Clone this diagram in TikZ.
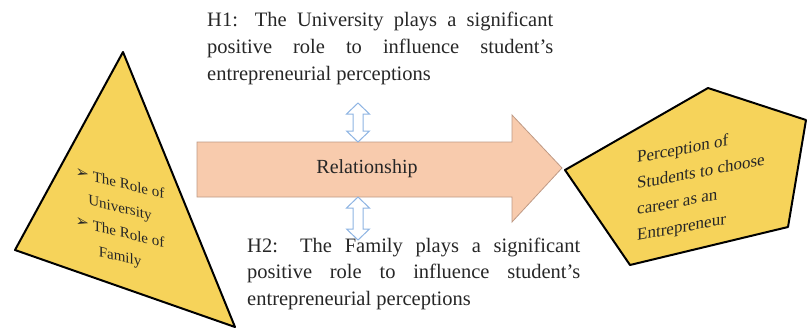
\documentclass[tikz,border=0pt]{standalone}
\usepackage{fontspec}
\setmainfont{Liberation Serif}
\newfontfamily\dingfont{DejaVu Sans}

\definecolor{shapeyellow}{HTML}{F6D35A}
\definecolor{peach}{HTML}{F8CBAD}
\definecolor{peachedge}{HTML}{BF9A85}
\definecolor{linkblue}{HTML}{8EB4E3}
\definecolor{inkgray}{HTML}{262626}

\tikzset{
  outlineshape/.style={draw=black, line width=2pt, fill=shapeyellow, line join=round},
  relarrow/.style={draw=peachedge, line width=0.8pt, fill=peach},
  linkarrow/.style={draw=linkblue, line width=1pt, fill=white, line join=miter},
  hyptext/.style={inner sep=0pt, anchor=base west, text=inkgray,
    font=\fontsize{20.5}{26.5}\selectfont},
  shapetext/.style={inner sep=0pt, text=inkgray, font=\fontsize{15}{24.5}\selectfont}
}

% bullet used in the list of roles
\newcommand\rolebullet{{\dingfont\fontsize{16}{16}\selectfont ➢}}

% hollow up-down arrow: centre x, lower end y, upper end y
\newcommand\linkarrowpath[3]{%
  \draw[linkarrow] (#1,#3) -- (#1+11.5,#3-11) -- (#1+5,#3-11) -- (#1+5,#2+11)
    -- (#1+11.5,#2+11) -- (#1,#2) -- (#1-11.5,#2+11) -- (#1-5,#2+11)
    -- (#1-5,#3-11) -- (#1-11.5,#3-11) -- cycle;}

\begin{document}
\begin{tikzpicture}[x=1pt,y=1pt]
\useasboundingbox (0,0) rectangle (808,333);

% left triangle with the two roles
\draw[outlineshape] (123,281) coordinate (triTop) -- (15,83) coordinate (triLeft)
  -- (235,6) coordinate (triBottom) -- cycle;
\node[shapetext, anchor=base, yslant=-0.25] (roles) at (120,145)
  {\parbox[t]{110pt}{\centering
    \rolebullet{} The Role of\\
    University\\
    \rolebullet{} The Role of\\
    Family}};

% right pentagon with the outcome
\draw[outlineshape] (565,163) coordinate (pentLeft) -- (708,245) coordinate (pentTop)
  -- (806,213) coordinate (pentRight) -- (788,106) coordinate (pentLow)
  -- (630,68) coordinate (pentBottom) -- cycle;
\node[shapetext, anchor=base west, yslant=0.19,
  font=\fontsize{17}{26}\selectfont] (perception) at (637,170)
  {\parbox[t]{140pt}{\raggedright
    Perception of\\
    Students to choose\\
    career as an\\
    Entrepreneur}};

% central block arrow
\draw[relarrow] (197,191) coordinate (bodyTop) -- (512,191) -- (512,218)
  -- (562,165) coordinate (tip) -- (512,111) -- (512,136) -- (197,136) -- cycle;
\node[text=inkgray, font=\fontsize{20}{24}\selectfont, inner sep=0pt]
  (relation) at (367,164) {Relationship};

% links from the hypotheses to the relationship
\linkarrowpath{358}{191}{230}
\linkarrowpath{358}{93}{136}

% hypotheses
\node[hyptext] (h1) at (207,306)
  {\parbox[t]{346pt}{%
    \makebox[346pt][s]{H1: The University plays a significant}\\
    \makebox[346pt][s]{positive role to influence student's}\\
    entrepreneurial perceptions}};
\node[hyptext] (h2) at (247,81)
  {\parbox[t]{333pt}{%
    \makebox[333pt][s]{H2: The Family plays a significant}\\
    \makebox[333pt][s]{positive role to influence student's}\\
    entrepreneurial perceptions}};
\end{tikzpicture}
\end{document}
